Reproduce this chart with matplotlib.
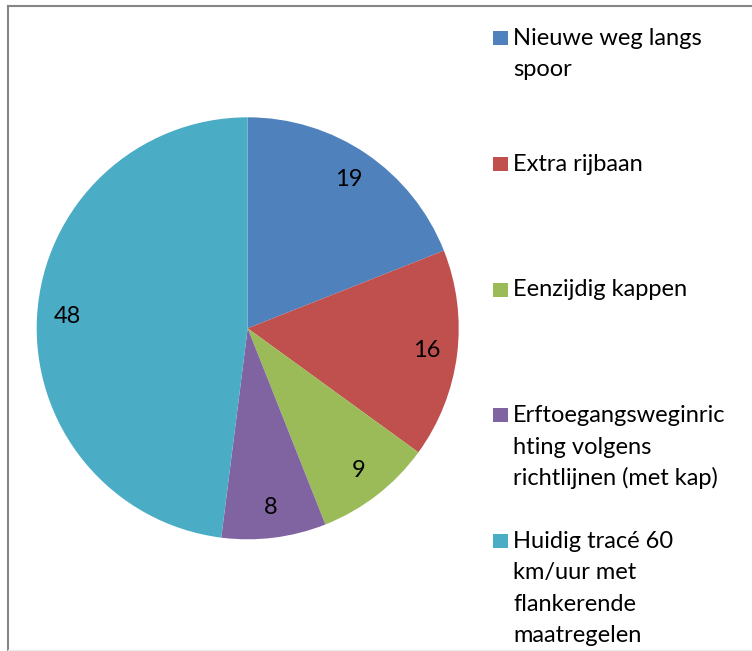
import numpy as np
import matplotlib
matplotlib.use('Agg')
import matplotlib.pyplot as plt
from matplotlib.patches import Rectangle
from matplotlib.lines import Line2D

plt.rcParams['font.family'] = ['Lato', 'DejaVu Sans']

categories = [
    'Nieuwe weg langs spoor',
    'Extra rijbaan',
    'Eenzijdig kappen',
    'Erftoegangsweginrichting volgens richtlijnen (met kap)',
    'Huidig tracé 60 km/uur met flankerende maatregelen',
]
# legend text as wrapped in the original
legend_lines = [
    ['Nieuwe weg langs', 'spoor'],
    ['Extra rijbaan'],
    ['Eenzijdig kappen'],
    ['Erftoegangsweginric', 'hting volgens', 'richtlijnen (met kap)'],
    ['Huidig tracé 60', 'km/uur met', 'flankerende', 'maatregelen'],
]
values = [19, 16, 9, 8, 48]
colors = ['#4F81BD', '#C0504D', '#9BBB59', '#8064A2', '#4BACC6']

W, H = 752, 651
fig = plt.figure(figsize=(W / 100, H / 100), dpi=100)

# pie placement (pixels)
cx, cy, r = 247.7, 328.3, 211
ax = fig.add_axes([(cx - r) / W, (H - cy - r) / H, 2 * r / W, 2 * r / H])
wedges, texts = ax.pie(values, colors=colors, startangle=90, counterclock=False,
                       labels=[str(v) for v in values], labeldistance=0.855,
                       wedgeprops=dict(linewidth=0),
                       textprops=dict(fontsize=17, color='black'))
for t in texts:
    t.set_ha('center')
    t.set_va('center')
ax.set_xlim(-1, 1)
ax.set_ylim(-1, 1)
ax.set_aspect('equal')
ax.axis('off')

# legend drawn by hand to mimic Excel's wrapped entries
sq_x, sq_w, sq_h = 493, 15, 14
text_x = 513
first_base = 45
entry_step = 125.75
line_step = 31.5
for i, (lines, col) in enumerate(zip(legend_lines, colors)):
    base = first_base + entry_step * i
    fig.patches.append(Rectangle((sq_x / W, 1 - base / H), sq_w / W, sq_h / H,
                                 transform=fig.transFigure, facecolor=col,
                                 edgecolor='none'))
    for j, line in enumerate(lines):
        fig.text(text_x / W, 1 - (base + line_step * j) / H, line,
                 fontsize=17, ha='left', va='baseline', color='black')

# chart frame
fig.lines.append(Line2D([8 / W, 8 / W], [0, 1 - 6 / H], transform=fig.transFigure,
                        color='#868686', linewidth=1.5))
fig.lines.append(Line2D([8 / W, 1], [1 - 6 / H, 1 - 6 / H], transform=fig.transFigure,
                        color='#868686', linewidth=1.5))
fig.lines.append(Line2D([8 / W, 1], [1 - 650 / H, 1 - 650 / H], transform=fig.transFigure,
                        color='#ececec', linewidth=1))

fig.savefig('out.png', dpi=100, facecolor='white')
